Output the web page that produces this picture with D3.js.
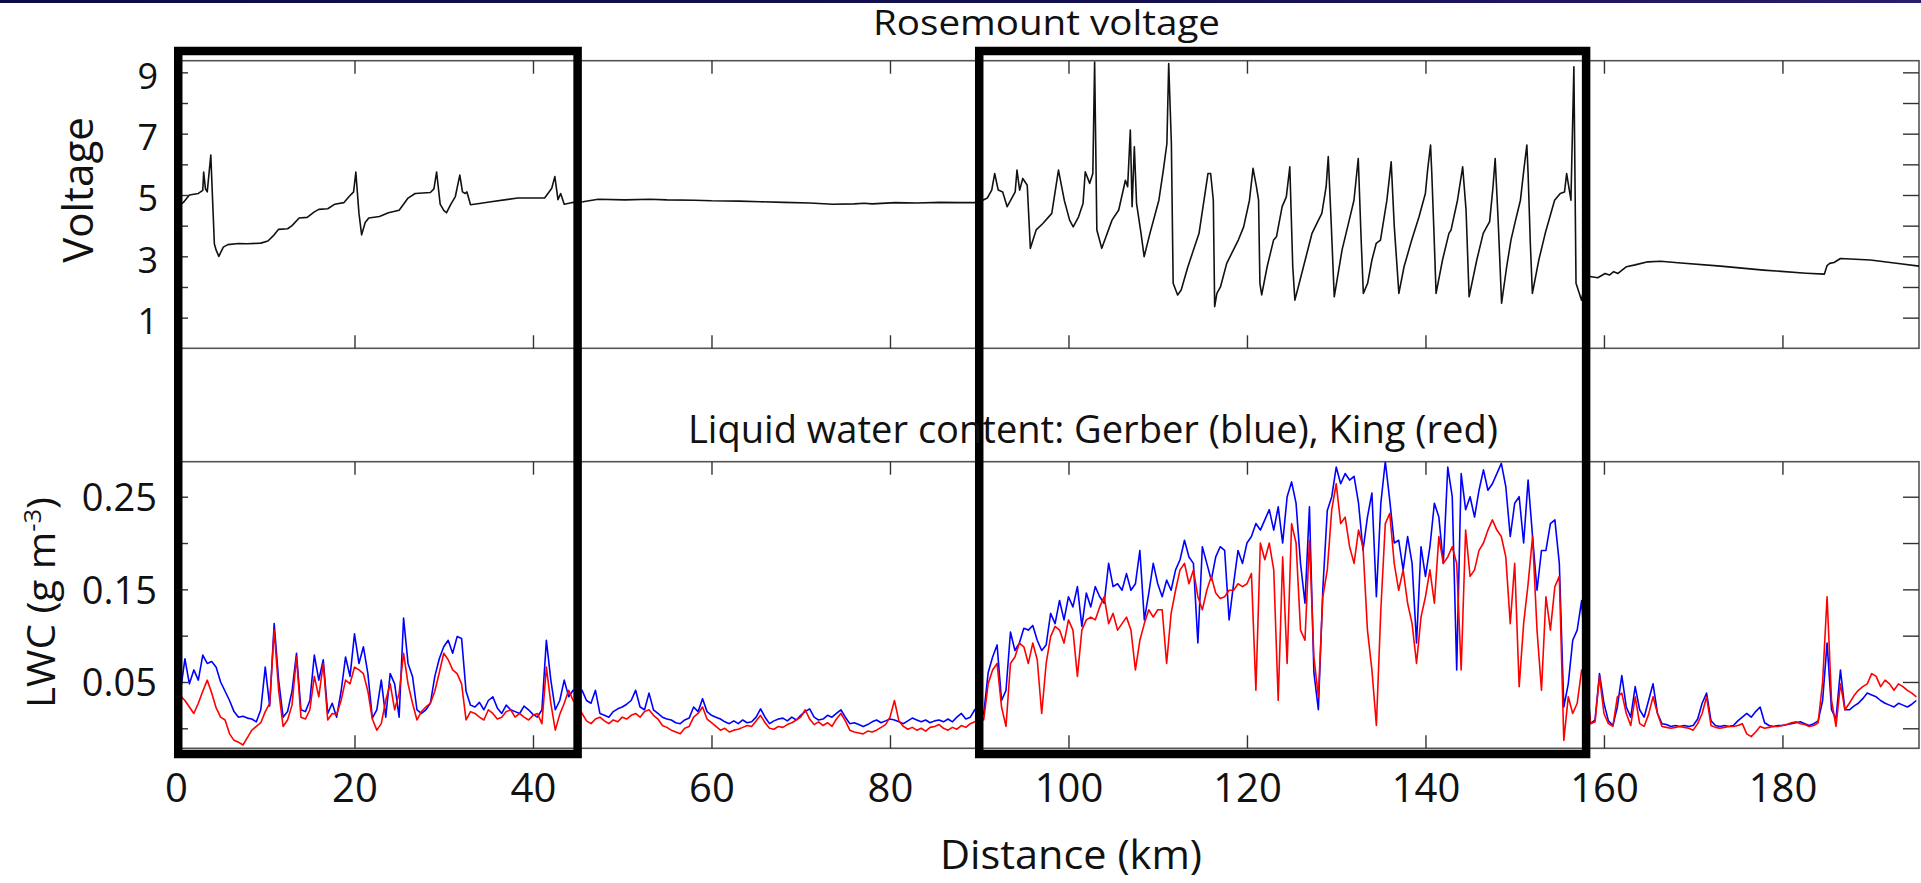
<!DOCTYPE html>
<html>
<head>
<meta charset="utf-8">
<script src="https://cdn.jsdelivr.net/npm/d3@7"></script>
<style>
  html, body { margin: 0; padding: 0; background: #fff; overflow: hidden; }
  svg { display: block; }
</style>
</head>
<body>
<svg id="chart" width="1921" height="883"></svg>
<script>
// Rosemount probe voltage, [distance km, volts]
const voltage = [
  [0, 4.6], [0.8, 4.75], [1.5, 5.0], [2.5, 5.05], [3.0, 5.15], [3.1, 5.75], [3.3, 5.2], [3.5, 5.1], [3.9, 6.3],
  [4.3, 3.4], [4.5, 3.2], [4.8, 3.0], [5.3, 3.3], [5.8, 3.38], [7.0, 3.42], [8.0, 3.41], [9.5, 3.43], [10.3, 3.5],
  [11.0, 3.7], [11.5, 3.88], [12.5, 3.9], [13.0, 4.0], [13.8, 4.25], [14.7, 4.27], [15.5, 4.45], [16.0, 4.53],
  [17.0, 4.55], [17.8, 4.7], [18.8, 4.75], [19.4, 4.95], [19.9, 5.1], [20.15, 5.75], [20.5, 4.4], [20.8, 3.7],
  [21.2, 4.1], [21.6, 4.25], [22.8, 4.3], [23.8, 4.42], [25.0, 4.5], [25.5, 4.7], [26.0, 4.9], [26.8, 5.05],
  [28.5, 5.08], [28.9, 5.2], [29.2, 5.75], [29.6, 4.7], [30.0, 4.5], [30.3, 4.42], [30.8, 4.7], [31.3, 4.95],
  [31.8, 5.65], [32.1, 5.1], [32.4, 5.05], [32.6, 5.1], [33.0, 4.68], [34.0, 4.72], [35.3, 4.78], [37.0, 4.85],
  [38.3, 4.9], [41.3, 4.9], [41.8, 5.1], [42.1, 5.22], [42.45, 5.6], [42.8, 4.85], [43.1, 5.05], [43.5, 4.7],
  [44.3, 4.75], [45.6, 4.78], [47.3, 4.86], [50.3, 4.84], [53.1, 4.86], [55.0, 4.84], [58.1, 4.83], [60.0, 4.81],
  [63.1, 4.8], [65.5, 4.78], [68.1, 4.76], [71.0, 4.74], [73.6, 4.7], [76.0, 4.71], [77.1, 4.73], [78.0, 4.71],
  [80.6, 4.75], [83.0, 4.74], [85.6, 4.76], [88.0, 4.75], [89.6, 4.75], [90.4, 4.83], [90.9, 4.9], [91.4, 5.16],
  [91.73, 5.7], [92.13, 5.16], [92.63, 5.1], [93.13, 4.62], [93.73, 4.94], [94.03, 5.1], [94.23, 5.81],
  [94.53, 5.16], [94.88, 5.54], [95.38, 5.32], [95.73, 3.26], [96.38, 3.86], [97.13, 4.07], [98.13, 4.4],
  [98.88, 5.81], [99.53, 4.83], [100.13, 4.18], [100.53, 3.96], [101.13, 4.29], [101.63, 4.72], [101.88, 5.76],
  [102.38, 5.38], [102.73, 5.7], [102.93, 9.34], [103.18, 3.86], [103.73, 3.26], [104.13, 3.58], [104.88, 4.18],
  [105.63, 4.51], [106.38, 5.48], [106.63, 5.27], [106.93, 7.12], [107.13, 4.62], [107.38, 6.57], [107.63, 4.72],
  [108.13, 3.75], [108.48, 2.99], [109.13, 3.75], [110.13, 4.83], [110.63, 5.81], [111.03, 6.68], [111.23, 9.29],
  [111.53, 6.68], [111.73, 2.12], [112.23, 1.74], [112.63, 1.9], [113.38, 2.66], [114.63, 3.75], [115.63, 5.7],
  [115.93, 5.7], [116.23, 4.83], [116.38, 1.36], [116.63, 1.79], [117.03, 2.0], [117.73, 2.77], [119.03, 3.53],
  [119.63, 3.96], [120.28, 4.83], [120.68, 5.87], [121.06, 5.27], [121.3, 4.83], [121.45, 2.12], [121.65, 1.74],
  [122.26, 2.66], [122.98, 3.53], [123.31, 3.64], [123.94, 4.62], [124.41, 4.94], [124.8, 5.92], [125.13, 2.66],
  [125.37, 1.57], [126.33, 2.66], [127.29, 3.75], [128.01, 4.18], [128.39, 4.4], [128.87, 5.27], [129.11, 6.25],
  [129.45, 4.0], [129.78, 1.68], [130.65, 3.2], [131.46, 4.18], [131.99, 4.83], [132.47, 6.19], [132.8, 3.5],
  [133.04, 1.79], [133.52, 2.12], [134.0, 2.88], [134.48, 3.42], [134.96, 3.53], [135.68, 4.83], [136.16, 6.08],
  [136.5, 4.0], [137.02, 1.79], [137.6, 2.66], [138.46, 3.53], [139.28, 4.29], [139.99, 5.05], [140.24, 5.81],
  [140.57, 6.63], [140.71, 5.7], [140.95, 3.8], [141.19, 1.79], [141.91, 2.88], [142.63, 3.75], [142.87, 3.86],
  [143.59, 4.83], [144.17, 5.92], [144.55, 4.5], [144.89, 1.68], [145.75, 2.88], [146.47, 3.75], [147.19, 4.13],
  [147.57, 5.27], [147.81, 6.19], [148.14, 4.2], [148.53, 1.47], [149.1, 2.66], [149.58, 3.53], [150.06, 4.13],
  [150.64, 4.83], [151.02, 5.81], [151.36, 6.63], [151.5, 5.7], [151.74, 3.5], [151.98, 1.79], [152.7, 2.88],
  [153.42, 3.75], [154.47, 4.83], [155.1, 5.05], [155.58, 5.1], [155.82, 5.7], [156.3, 4.83], [156.63, 9.18],
  [156.87, 2.12], [157.49, 1.57], [158.0, 2.3], [158.45, 2.34], [159.3, 2.3], [160.13, 2.44], [160.61, 2.39],
  [161.09, 2.5], [161.57, 2.44], [162.53, 2.66], [163.49, 2.72], [164.92, 2.82], [166.36, 2.84], [168.28, 2.79],
  [173.07, 2.68], [177.87, 2.55], [182.66, 2.45], [184.7, 2.42], [185.0, 2.7], [185.3, 2.77], [185.78, 2.8],
  [186.5, 2.93], [189.85, 2.88], [193.21, 2.76], [195.3, 2.68]
];

// liquid water content, one sample every LWC_STEP_KM from 0 km
const LWC_STEP_KM = 0.5;
const gerberLwc = [
  0.060, 0.040, 0.075, 0.048, 0.063, 0.052, 0.079, 0.070, 0.072, 0.066, 0.050, 0.040, 0.030, 0.018, 0.012, 0.013, 0.011, 0.010, 0.007, 0.020,
  0.066, 0.024, 0.113, 0.052, 0.012, 0.018, 0.040, 0.081, 0.020, 0.018, 0.030, 0.079, 0.052, 0.074, 0.016, 0.027, 0.012, 0.040, 0.077, 0.056,
  0.102, 0.070, 0.088, 0.059, 0.011, 0.020, 0.052, 0.012, 0.059, 0.048, 0.012, 0.119, 0.070, 0.056, 0.020, 0.016, 0.020, 0.027, 0.056, 0.075,
  0.088, 0.095, 0.081, 0.099, 0.097, 0.040, 0.025, 0.023, 0.028, 0.020, 0.030, 0.034, 0.022, 0.016, 0.025, 0.020, 0.018, 0.016, 0.024, 0.020,
  0.015, 0.012, 0.020, 0.095, 0.052, 0.020, 0.030, 0.052, 0.034, 0.041, 0.040, 0.041, 0.030, 0.027, 0.041, 0.016, 0.014, 0.012, 0.018, 0.021,
  0.023, 0.026, 0.030, 0.041, 0.023, 0.020, 0.038, 0.020, 0.016, 0.012, 0.010, 0.009, 0.006, 0.005, 0.009, 0.011, 0.023, 0.018, 0.032, 0.018,
  0.014, 0.012, 0.010, 0.007, 0.005, 0.008, 0.005, 0.009, 0.006, 0.007, 0.012, 0.021, 0.012, 0.005, 0.008, 0.010, 0.011, 0.008, 0.012, 0.009,
  0.014, 0.018, 0.021, 0.012, 0.009, 0.010, 0.014, 0.012, 0.016, 0.020, 0.012, 0.005, 0.006, 0.004, 0.002, 0.004, 0.007, 0.009, 0.006, 0.008,
  0.010, 0.009, 0.007, 0.005, 0.008, 0.011, 0.009, 0.007, 0.009, 0.006, 0.008, 0.009, 0.007, 0.010, 0.007, 0.012, 0.016, 0.010, 0.012, 0.020,
  0.025, 0.015, 0.060, 0.077, 0.090, 0.030, 0.041, 0.104, 0.084, 0.092, 0.108, 0.106, 0.111, 0.095, 0.084, 0.090, 0.124, 0.113, 0.138, 0.117,
  0.142, 0.131, 0.153, 0.110, 0.146, 0.131, 0.153, 0.142, 0.135, 0.178, 0.153, 0.156, 0.149, 0.167, 0.149, 0.156, 0.192, 0.117, 0.146, 0.178,
  0.156, 0.142, 0.160, 0.149, 0.171, 0.182, 0.203, 0.185, 0.178, 0.092, 0.196, 0.178, 0.160, 0.185, 0.196, 0.192, 0.117, 0.156, 0.192, 0.178,
  0.200, 0.207, 0.221, 0.214, 0.225, 0.236, 0.214, 0.239, 0.200, 0.250, 0.266, 0.243, 0.178, 0.135, 0.239, 0.060, 0.020, 0.150, 0.235, 0.250,
  0.282, 0.264, 0.275, 0.268, 0.272, 0.243, 0.192, 0.228, 0.254, 0.142, 0.243, 0.288, 0.246, 0.200, 0.203, 0.171, 0.207, 0.178, 0.092, 0.196,
  0.164, 0.196, 0.243, 0.228, 0.178, 0.282, 0.250, 0.063, 0.275, 0.236, 0.250, 0.228, 0.257, 0.279, 0.257, 0.264, 0.275, 0.286, 0.261, 0.207,
  0.243, 0.250, 0.200, 0.268, 0.207, 0.149, 0.192, 0.192, 0.221, 0.225, 0.178, 0.023, 0.048, 0.095, 0.106, 0.138, 0.060, 0.005, 0.009, 0.059,
  0.027, 0.008, 0.003, 0.023, 0.057, 0.023, 0.012, 0.045, 0.020, 0.012, 0.030, 0.048, 0.016, 0.005, 0.004, 0.002, 0.003, 0.002, 0.003, 0.002,
  0.003, 0.010, 0.027, 0.038, 0.008, 0.003, 0.002, 0.003, 0.002, 0.003, 0.008, 0.012, 0.016, 0.012, 0.018, 0.023, 0.006, 0.003, 0.002, 0.003,
  0.003, 0.004, 0.005, 0.006, 0.007, 0.005, 0.003, 0.005, 0.008, 0.030, 0.092, 0.020, 0.010, 0.063, 0.020, 0.020, 0.024, 0.027, 0.032, 0.038,
  0.036, 0.034, 0.030, 0.027, 0.025, 0.023, 0.027, 0.025, 0.023, 0.026, 0.030
];
const kingLwc = [
  0.020, 0.035, 0.030, 0.023, 0.016, 0.027, 0.040, 0.052, 0.038, 0.022, 0.012, 0.009, -0.006, -0.013, -0.015, -0.018, -0.010, -0.002, 0.002, 0.006,
  0.018, 0.027, 0.106, 0.041, 0.002, 0.009, 0.025, 0.077, 0.012, 0.010, 0.020, 0.056, 0.034, 0.070, 0.009, 0.016, 0.015, 0.030, 0.052, 0.048,
  0.066, 0.063, 0.059, 0.040, 0.010, -0.002, 0.005, 0.030, 0.048, 0.020, 0.038, 0.081, 0.048, 0.027, 0.009, 0.018, 0.023, 0.027, 0.040, 0.060,
  0.081, 0.074, 0.063, 0.059, 0.048, 0.009, 0.018, 0.016, 0.012, 0.009, 0.020, 0.016, 0.010, 0.012, 0.018, 0.020, 0.012, 0.016, 0.012, 0.009,
  0.014, 0.016, 0.005, 0.066, 0.027, -0.002, 0.015, 0.027, 0.041, 0.030, 0.025, 0.016, 0.008, 0.005, 0.010, 0.012, 0.008, 0.005, 0.009, 0.007,
  0.012, 0.010, 0.014, 0.016, 0.012, 0.018, 0.020, 0.014, 0.010, 0.003, 0.001, -0.002, -0.004, -0.006, 0.000, 0.002, 0.012, 0.016, 0.023, 0.010,
  0.006, 0.002, -0.002, 0.000, -0.004, -0.002, -0.001, 0.001, 0.003, 0.002, 0.008, 0.014, 0.006, 0.000, -0.001, 0.002, 0.001, 0.004, 0.006, 0.009,
  0.012, 0.020, 0.010, 0.004, 0.007, 0.003, 0.006, 0.002, 0.010, 0.016, 0.008, -0.002, -0.004, -0.005, -0.006, -0.003, -0.004, -0.002, 0.001, 0.004,
  0.012, 0.030, 0.008, 0.002, -0.001, 0.001, -0.002, 0.000, -0.003, 0.001, 0.002, 0.004, 0.000, -0.002, 0.001, -0.001, 0.003, 0.001, 0.005, 0.007,
  0.010, 0.009, 0.048, 0.063, 0.070, 0.023, 0.002, 0.070, 0.077, 0.092, 0.088, 0.070, 0.092, 0.074, 0.016, 0.070, 0.099, 0.110, 0.106, 0.092,
  0.117, 0.106, 0.056, 0.106, 0.117, 0.120, 0.117, 0.131, 0.142, 0.113, 0.124, 0.106, 0.113, 0.120, 0.106, 0.063, 0.095, 0.113, 0.128, 0.120,
  0.128, 0.128, 0.070, 0.124, 0.149, 0.171, 0.178, 0.156, 0.171, 0.142, 0.128, 0.149, 0.164, 0.146, 0.140, 0.142, 0.149, 0.149, 0.156, 0.153,
  0.156, 0.167, 0.041, 0.200, 0.182, 0.200, 0.171, 0.030, 0.185, 0.070, 0.221, 0.200, 0.106, 0.095, 0.203, 0.077, 0.034, 0.142, 0.171, 0.236,
  0.264, 0.221, 0.228, 0.196, 0.178, 0.214, 0.196, 0.106, 0.063, 0.003, 0.128, 0.221, 0.232, 0.178, 0.149, 0.171, 0.135, 0.113, 0.070, 0.120,
  0.142, 0.171, 0.135, 0.207, 0.178, 0.185, 0.196, 0.178, 0.063, 0.214, 0.164, 0.171, 0.192, 0.200, 0.214, 0.225, 0.214, 0.207, 0.185, 0.113,
  0.178, 0.045, 0.113, 0.156, 0.207, 0.106, 0.041, 0.142, 0.106, 0.153, 0.164, -0.013, 0.034, 0.016, 0.027, 0.063, 0.050, 0.005, 0.007, 0.056,
  0.016, 0.005, 0.002, 0.034, 0.038, 0.016, 0.003, 0.034, 0.005, 0.002, 0.015, 0.034, 0.016, 0.002, 0.001, 0.000, 0.001, 0.002, 0.001, 0.000,
  -0.002, 0.005, 0.016, 0.034, 0.003, 0.001, 0.000, 0.001, 0.002, 0.002, 0.003, 0.005, -0.006, -0.009, -0.004, 0.002, 0.000, 0.001, 0.002, 0.002,
  0.003, 0.004, 0.006, 0.007, 0.005, 0.004, 0.002, 0.003, 0.006, 0.050, 0.142, 0.030, 0.002, 0.048, 0.020, 0.027, 0.035, 0.041, 0.045, 0.048,
  0.059, 0.056, 0.045, 0.052, 0.048, 0.041, 0.048, 0.045, 0.041, 0.038, 0.034
];

const distanceTicks = [0, 20, 40, 60, 80, 100, 120, 140, 160, 180];
const voltageTicks = [1, 2, 3, 4, 5, 6, 7, 8, 9];
const voltageLabels = [1, 3, 5, 7, 9];
const lwcTicks = [0, 0.05, 0.1, 0.15, 0.2, 0.25];
const lwcLabels = [0.05, 0.15, 0.25];
// highlighted flight legs, km
const highlightRanges = [[0.25, 45], [90, 158]];

const FONT = '"Open Sans", "Noto Sans", sans-serif';
const PLOT_LEFT = 176;
const PLOT_RIGHT = 1919;
const TOP_PANEL = { top: 60.7, bottom: 348.3 };
const LOW_PANEL = { top: 461.7, bottom: 748.3 };

const svg = d3.select('#chart');

const x = d3.scaleLinear().domain([0, 195.3]).range([PLOT_LEFT, PLOT_RIGHT]);
const yVolt = d3.scaleLinear().domain([0, 9.38]).range([TOP_PANEL.bottom, TOP_PANEL.top]);
const yLwc = d3.scaleLinear().domain([-0.0216, 0.2878]).range([LOW_PANEL.bottom, LOW_PANEL.top]);

// thin navy strip along the top edge
const grad = svg.append('defs').append('linearGradient').attr('id', 'strip');
grad.append('stop').attr('offset', '0%').attr('stop-color', '#0c0c48');
grad.append('stop').attr('offset', '60%').attr('stop-color', '#14104e');
grad.append('stop').attr('offset', '100%').attr('stop-color', '#2a1c6e');
svg.append('rect').attr('x', 0).attr('y', 0).attr('width', 1921).attr('height', 3).attr('fill', 'url(#strip)');

function addClip(id, panel) {
    svg.select('defs').append('clipPath').attr('id', id)
        .append('rect')
        .attr('x', PLOT_LEFT).attr('y', panel.top)
        .attr('width', PLOT_RIGHT - PLOT_LEFT).attr('height', panel.bottom - panel.top);
}

function drawFrame(panel) {
    svg.append('rect')
        .attr('x', PLOT_LEFT).attr('y', panel.top)
        .attr('width', PLOT_RIGHT - PLOT_LEFT).attr('height', panel.bottom - panel.top)
        .attr('fill', 'none').attr('stroke', '#555').attr('stroke-width', 1.6);
}

function drawTicks(panel, yScale, yTicks) {
    const g = svg.append('g');
    g.append('g').attr('transform', `translate(0,${panel.bottom})`)
        .call(d3.axisBottom(x).tickValues(distanceTicks).tickSize(-13).tickFormat(''));
    g.append('g').attr('transform', `translate(0,${panel.top})`)
        .call(d3.axisTop(x).tickValues(distanceTicks).tickSize(-13).tickFormat(''));
    g.append('g').attr('transform', `translate(${PLOT_LEFT},0)`)
        .call(d3.axisLeft(yScale).tickValues(yTicks).tickSize(-12).tickFormat(''));
    g.append('g').attr('transform', `translate(${PLOT_RIGHT},0)`)
        .call(d3.axisRight(yScale).tickValues(yTicks).tickSize(-16).tickFormat(''));
    g.selectAll('.domain').remove();
    g.selectAll('line').attr('stroke', '#333').attr('stroke-width', 1.4);
}

function drawYLabels(yScale, values, fmt, size, padding, shift) {
    const g = svg.append('g').attr('transform', `translate(${PLOT_LEFT},0)`)
        .call(d3.axisLeft(yScale).tickValues(values).tickSize(0).tickPadding(padding).tickFormat(fmt));
    g.select('.domain').remove();
    g.selectAll('text')
        .attr('font-family', FONT).attr('font-size', size).attr('fill', '#111')
        .attr('dy', '0.36em').attr('y', shift);
}

addClip('clipTop', TOP_PANEL);
addClip('clipLow', LOW_PANEL);
drawFrame(TOP_PANEL);
drawFrame(LOW_PANEL);

// voltage trace
const voltLine = d3.line().x(d => x(d[0])).y(d => yVolt(d[1]));
svg.append('path')
    .datum(voltage)
    .attr('clip-path', 'url(#clipTop)')
    .attr('d', voltLine)
    .attr('fill', 'none').attr('stroke', '#111').attr('stroke-width', 1.6)
    .attr('stroke-linejoin', 'round');

// LWC traces, Gerber first so King sits on top
const lwcLine = d3.line().x((d, i) => x(i * LWC_STEP_KM)).y(d => yLwc(d));
[[gerberLwc, '#0000ff'], [kingLwc, '#ff0000']].forEach(([series, color]) => {
    svg.append('path')
        .datum(series)
        .attr('clip-path', 'url(#clipLow)')
        .attr('d', lwcLine)
        .attr('fill', 'none').attr('stroke', color).attr('stroke-width', 1.6)
        .attr('stroke-linejoin', 'round');
});

drawTicks(TOP_PANEL, yVolt, voltageTicks);
drawTicks(LOW_PANEL, yLwc, lwcTicks);

drawYLabels(yVolt, voltageLabels, d3.format('d'), 36, 18, 3);
drawYLabels(yLwc, lwcLabels, d3.format('.2f'), 38, 19, 0);

// distance labels under the lower panel
const xLabels = svg.append('g').attr('transform', `translate(0,${LOW_PANEL.bottom})`)
    .call(d3.axisBottom(x).tickValues(distanceTicks).tickSize(0).tickPadding(25).tickFormat(d3.format('d')));
xLabels.select('.domain').remove();
xLabels.selectAll('text').attr('font-family', FONT).attr('font-size', 40).attr('fill', '#111');

// highlight boxes
svg.append('g').selectAll('rect')
    .data(highlightRanges)
    .join('rect')
    .attr('x', d => x(d[0]))
    .attr('y', 51)
    .attr('width', d => x(d[1]) - x(d[0]))
    .attr('height', 703)
    .attr('fill', 'none').attr('stroke', '#000').attr('stroke-width', 8.5);

// titles and axis names
function addText(txt, px, py, size, length, rotate) {
    const t = svg.append('text')
        .attr('font-family', FONT).attr('font-size', size).attr('fill', '#111')
        .attr('text-anchor', 'middle')
        .attr('transform', `translate(${px},${py})` + (rotate ? ' rotate(-90)' : ''))
        .text(txt);
    if (length) t.attr('textLength', length).attr('lengthAdjust', 'spacingAndGlyphs');
    return t;
}

addText('Rosemount voltage', 1046.5, 35, 34, 347);
addText('Liquid water content: Gerber (blue), King (red)', 1093, 443, 38, 810);
addText('Distance (km)', 1071, 869, 40, 262);
addText('Voltage', 93, 190, 42, null, true);

const lwcLabel = svg.append('text')
    .attr('font-family', FONT).attr('font-size', 38).attr('fill', '#111')
    .attr('text-anchor', 'middle')
    .attr('transform', 'translate(55,602.5) rotate(-90)')
    .attr('textLength', 211).attr('lengthAdjust', 'spacingAndGlyphs');
lwcLabel.append('tspan').text('LWC (g m');
lwcLabel.append('tspan').attr('font-size', 24).attr('dy', -14).text('-3');
lwcLabel.append('tspan').attr('dy', 14).text(')');
</script>
</body>
</html>
